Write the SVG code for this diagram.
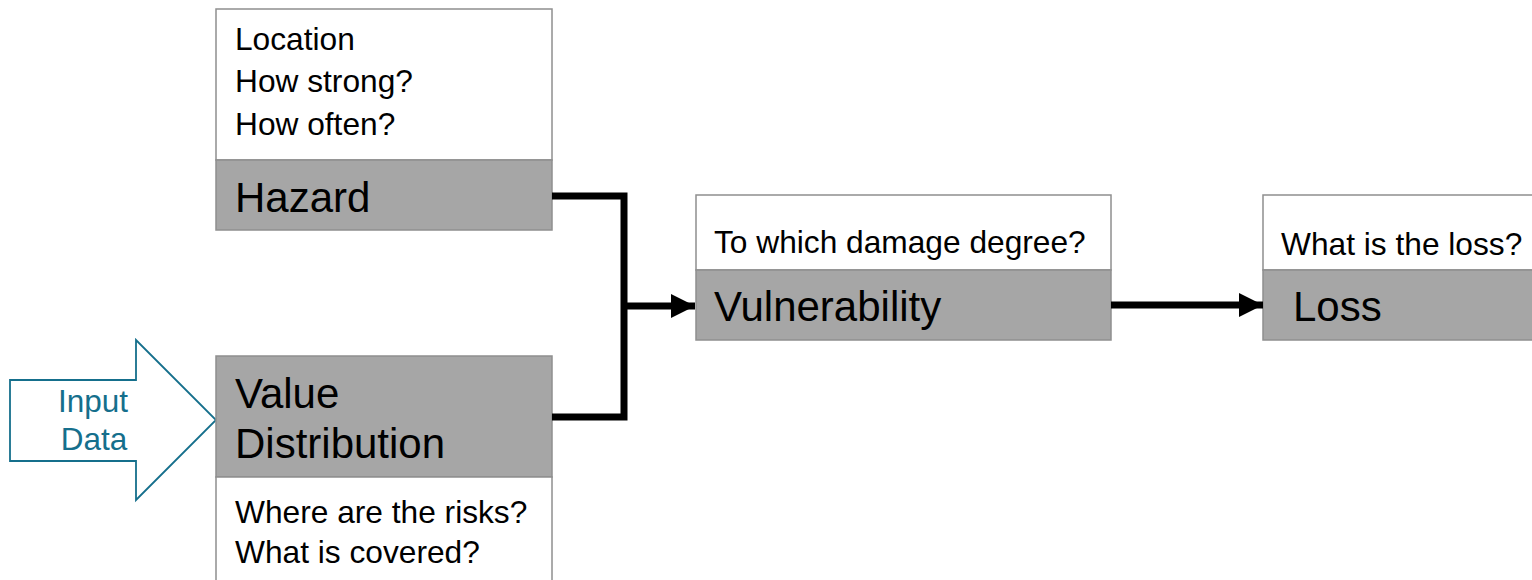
<svg xmlns="http://www.w3.org/2000/svg" width="1532" height="580" viewBox="0 0 1532 580">
<defs>
<style>
.w{fill:#ffffff;stroke:#8f8f8f;stroke-width:1.5}
.g{fill:#a6a6a6;stroke:#8f8f8f;stroke-width:1.5}
.s{font-family:"Liberation Sans",Arial,sans-serif;font-size:31.7px;fill:#000}
.b{font-family:"Liberation Sans",Arial,sans-serif;font-size:42px;fill:#000}
.c{fill:none;stroke:#000;stroke-width:7}
.in{font-family:"Liberation Sans",Arial,sans-serif;font-size:31.5px;fill:#156f8c;text-anchor:middle}
</style>
<marker id="ah" markerWidth="24" markerHeight="24" viewBox="0 0 24 24" refX="24" refY="12" markerUnits="userSpaceOnUse" orient="auto">
<path d="M0,0 L24,12 L0,24 Z" fill="#000"/>
</marker>
</defs>
<g id="input-data">
<path d="M10,380 L136,380 L136,340 L216,420 L136,500 L136,461 L10,461 Z" fill="#fff" stroke="#156f8c" stroke-width="1.8"/>
<text class="in" x="93" y="412">Input</text>
<text class="in" x="94" y="450">Data</text>
</g>
<g id="hazard">
<rect class="w" x="216" y="9" width="336" height="151"/>
<rect class="g" x="216" y="160" width="336" height="70"/>
<text class="s" x="235" y="50">Location</text>
<text class="s" x="235" y="92">How strong?</text>
<text class="s" x="235" y="135">How often?</text>
<text class="b" x="235" y="212">Hazard</text>
</g>
<g id="value-distribution">
<rect class="g" x="216" y="356" width="336" height="121"/>
<rect class="w" x="216" y="477" width="336" height="115"/>
<text class="b" x="235" y="408">Value</text>
<text class="b" x="235" y="458">Distribution</text>
<text class="s" x="235" y="523">Where are the risks?</text>
<text class="s" x="235" y="563">What is covered?</text>
</g>
<g id="vulnerability">
<rect class="w" x="696" y="195" width="415" height="75"/>
<rect class="g" x="696" y="270" width="415" height="70"/>
<text class="s" x="714" y="253">To which damage degree?</text>
<text class="b" x="714" y="321">Vulnerability</text>
</g>
<g id="loss">
<rect class="w" x="1263" y="195" width="280" height="75"/>
<rect class="g" x="1263" y="270" width="280" height="70"/>
<text class="s" x="1281" y="255">What is the loss?</text>
<text class="b" x="1293" y="321">Loss</text>
</g>
<g id="connectors">
<path class="c" d="M552,196 L624,196 L624,417 L552,417"/>
<path class="c" d="M624,306 L695,306" marker-end="url(#ah)"/>
<path class="c" d="M1111,305 L1263,305" marker-end="url(#ah)"/>
</g>
</svg>
